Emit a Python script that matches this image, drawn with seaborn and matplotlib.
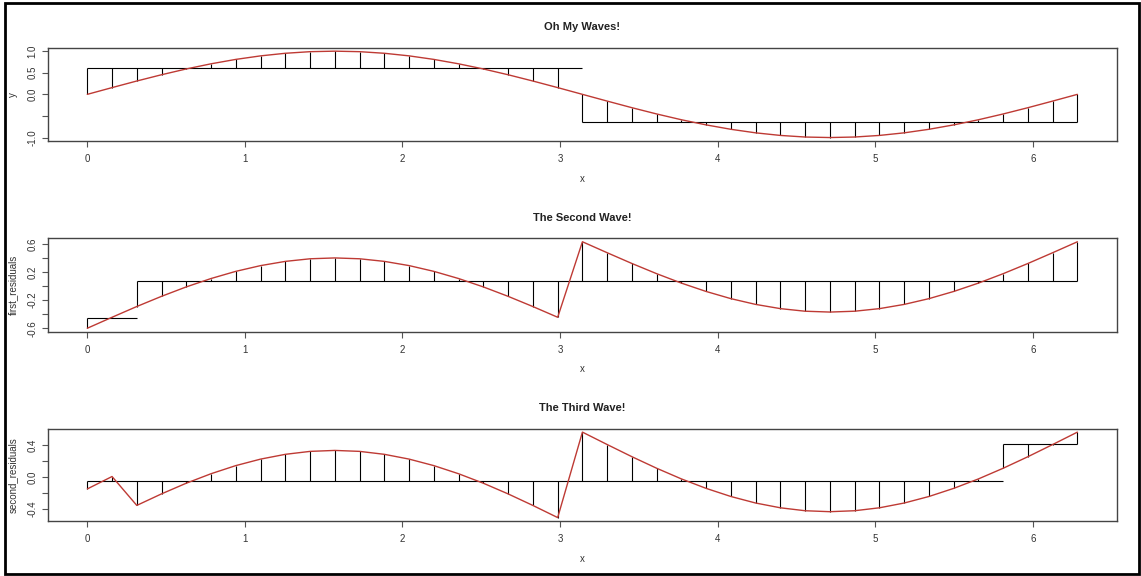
import numpy as np
import pandas as pd
import matplotlib
matplotlib.use("Agg")
import matplotlib.pyplot as plt
import matplotlib.patches as mpatches
import seaborn as sns

# ---------------- data ----------------
x = [0.000, 0.157, 0.314, 0.471, 0.628, 0.785, 0.942, 1.100, 1.257, 1.414,
     1.571, 1.728, 1.885, 2.042, 2.199, 2.356, 2.513, 2.670, 2.827, 2.985,
     3.142, 3.299, 3.456, 3.613, 3.770, 3.927, 4.084, 4.241, 4.398, 4.555,
     4.712, 4.869, 5.027, 5.184, 5.341, 5.498, 5.655, 5.812, 5.969, 6.126,
     6.283]

y = [0.000, 0.156, 0.309, 0.454, 0.588, 0.707, 0.809, 0.891, 0.951, 0.988,
     1.000, 0.988, 0.951, 0.891, 0.809, 0.707, 0.588, 0.454, 0.309, 0.156,
     0.000, -0.156, -0.309, -0.454, -0.588, -0.707, -0.809, -0.891, -0.951, -0.988,
     -1.000, -0.988, -0.951, -0.891, -0.809, -0.707, -0.588, -0.454, -0.309, -0.156,
     0.000]

first_residuals = [-0.600, -0.444, -0.291, -0.146, -0.012, 0.107, 0.209, 0.291, 0.351, 0.388,
                   0.400, 0.388, 0.351, 0.291, 0.209, 0.107, -0.012, -0.146, -0.291, -0.444,
                   0.630, 0.474, 0.321, 0.176, 0.042, -0.077, -0.179, -0.261, -0.321, -0.358,
                   -0.370, -0.358, -0.321, -0.261, -0.179, -0.077, 0.042, 0.176, 0.321, 0.474,
                   0.630]

second_residuals = [-0.150, 0.006, -0.357, -0.212, -0.078, 0.041, 0.143, 0.225, 0.285, 0.322,
                    0.334, 0.322, 0.285, 0.225, 0.143, 0.041, -0.078, -0.212, -0.357, -0.510,
                    0.564, 0.408, 0.255, 0.110, -0.024, -0.143, -0.245, -0.327, -0.387, -0.424,
                    -0.436, -0.424, -0.387, -0.327, -0.245, -0.143, -0.024, 0.110, 0.255, 0.408,
                    0.564]

# stump fits: (number of points in left group, left level, right level)
fit1_split, fit1_left, fit1_right = 20, 0.60, -0.63
fit2_split, fit2_left, fit2_right = 2, -0.45, 0.066
fit3_split, fit3_left, fit3_right = 37, -0.05, 0.41

titles = ["Oh My Waves!", "The Second Wave!", "The Third Wave!"]
ylabels = ["y", "first_residuals", "second_residuals"]
xticks = [0, 1, 2, 3, 4, 5, 6]
yticks_list = [[-1.0, -0.5, 0.0, 0.5, 1.0],
               [-0.6, -0.4, -0.2, 0.0, 0.2, 0.4, 0.6],
               [-0.4, -0.2, 0.0, 0.2, 0.4]]
ytick_labels = [["-1.0", "", "0.0", "0.5", "1.0"],
                ["-0.6", "", "-0.2", "", "0.2", "", "0.6"],
                ["-0.4", "", "0.0", "", "0.4"]]

# ---------------- drawing ----------------
sns.set_style("white")
plt.rcParams["font.family"] = ["Liberation Sans", "DejaVu Sans"]

W, H = 1141, 576
fig = plt.figure(figsize=(W / 100, H / 100), dpi=100)

# pixel boxes: (left, top, right, bottom)
boxes = [(47.7, 47.7, 1117, 141), (47.7, 238.3, 1117, 331.7), (47.7, 428.7, 1117, 521)]
title_y = [27, 218, 408]
xlabel_y = [179.5, 369, 558.5]

series = [y, first_residuals, second_residuals]
fits = [(fit1_split, fit1_left, fit1_right),
        (fit2_split, fit2_left, fit2_right),
        (fit3_split, fit3_left, fit3_right)]

red = "#be3a34"
xarr = np.array(x)

for k in range(3):
    l, t, r, b = boxes[k]
    ax = fig.add_axes([l / W, 1 - b / H, (r - l) / W, (b - t) / H])
    vals = np.array(series[k])
    split, lv, rv = fits[k]
    fit = np.where(np.arange(len(x)) < split, lv, rv)

    # residual segments
    ax.vlines(xarr, fit, vals, colors="black", linewidth=0.8)
    # step (stump) lines
    ax.hlines([lv, rv], [xarr[0], xarr[split]], [xarr[split], xarr[-1]],
              colors="black", linewidth=0.8)
    # the curve
    df = pd.DataFrame({"x": x, "v": series[k]})
    sns.lineplot(data=df, x="x", y="v", ax=ax, color=red, linewidth=1.0,
                 estimator=None, sort=False)

    xr = xarr.max() - xarr.min()
    ax.set_xlim(xarr.min() - 0.04 * xr, xarr.max() + 0.04 * xr)
    vr = vals.max() - vals.min()
    lo = min(vals.min(), fit.min())
    hi = max(vals.max(), fit.max())
    vr = hi - lo
    ax.set_ylim(lo - 0.04 * vr, hi + 0.04 * vr)

    ax.set_xticks(xticks)
    ax.set_xticklabels([str(v) for v in xticks])
    ax.set_yticks(yticks_list[k])
    ax.set_yticklabels(ytick_labels[k])
    ax.set_xlabel("")
    ax.set_ylabel("")
    ax.tick_params(axis="both", which="both", direction="out", length=4.3,
                   width=0.8, color="#555555", labelsize=7, labelcolor="#333333",
                   bottom=True, left=True)
    ax.tick_params(axis="x", pad=5)
    ax.tick_params(axis="y", pad=3, labelrotation=90)
    for lab in ax.get_yticklabels():
        lab.set_verticalalignment("center")
    for sp in ax.spines.values():
        sp.set_visible(True)
        sp.set_color("#444444")
        sp.set_linewidth(1.0)

    cx = (l + r) / 2 / W
    fig.text(cx, 1 - title_y[k] / H, titles[k], ha="center", va="center",
             fontsize=8, fontweight="bold", color="#222222")
    fig.text(cx, 1 - xlabel_y[k] / H, "x", ha="center", va="center",
             fontsize=7, color="#333333")
    fig.text(13 / W, 1 - ((t + b) / 2) / H, ylabels[k], ha="center", va="center",
             rotation=90, fontsize=7, color="#333333")

# outer frame
fig.patches.append(mpatches.Rectangle((4.5 / W, 2.5 / H), 1134.5 / W, 571 / H,
                                      transform=fig.transFigure, fill=False,
                                      edgecolor="black", linewidth=2.0))

fig.savefig("out.png", dpi=100)
